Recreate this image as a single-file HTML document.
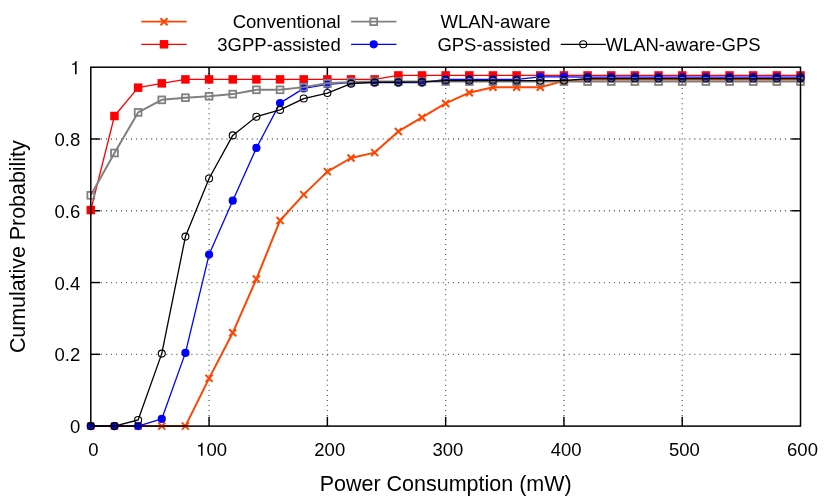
<!DOCTYPE html>
<html><head><meta charset="utf-8"><title>CDF of power consumption</title>
<style>
html,body{margin:0;padding:0;background:#fff;}
body{width:830px;height:498px;overflow:hidden;}
svg{display:block;font-family:"Liberation Sans",sans-serif;fill:#000;will-change:transform;}
</style></head><body>
<svg width="830" height="498" viewBox="0 0 830 498">
<rect width="830" height="498" fill="#fff"/>
<g stroke="#000" stroke-opacity="0.64" stroke-width="1.3" stroke-dasharray="1 4.03" fill="none"><line x1="209.08" y1="426.10" x2="209.08" y2="67.20"/><line x1="327.37" y1="426.10" x2="327.37" y2="67.20"/><line x1="445.65" y1="426.10" x2="445.65" y2="67.20"/><line x1="563.93" y1="426.10" x2="563.93" y2="67.20"/><line x1="682.22" y1="426.10" x2="682.22" y2="67.20"/><line x1="90.80" y1="354.32" x2="800.50" y2="354.32"/><line x1="90.80" y1="282.54" x2="800.50" y2="282.54"/><line x1="90.80" y1="210.76" x2="800.50" y2="210.76"/><line x1="90.80" y1="138.98" x2="800.50" y2="138.98"/></g>
<g stroke="#000" stroke-width="1.45" fill="none"><line x1="209.08" y1="426.10" x2="209.08" y2="416.80"/><line x1="209.08" y1="67.20" x2="209.08" y2="76.50"/><line x1="327.37" y1="426.10" x2="327.37" y2="416.80"/><line x1="327.37" y1="67.20" x2="327.37" y2="76.50"/><line x1="445.65" y1="426.10" x2="445.65" y2="416.80"/><line x1="445.65" y1="67.20" x2="445.65" y2="76.50"/><line x1="563.93" y1="426.10" x2="563.93" y2="416.80"/><line x1="563.93" y1="67.20" x2="563.93" y2="76.50"/><line x1="682.22" y1="426.10" x2="682.22" y2="416.80"/><line x1="682.22" y1="67.20" x2="682.22" y2="76.50"/><line x1="90.80" y1="354.32" x2="100.10" y2="354.32"/><line x1="800.50" y1="354.32" x2="791.20" y2="354.32"/><line x1="90.80" y1="282.54" x2="100.10" y2="282.54"/><line x1="800.50" y1="282.54" x2="791.20" y2="282.54"/><line x1="90.80" y1="210.76" x2="100.10" y2="210.76"/><line x1="800.50" y1="210.76" x2="791.20" y2="210.76"/><line x1="90.80" y1="138.98" x2="100.10" y2="138.98"/><line x1="800.50" y1="138.98" x2="791.20" y2="138.98"/></g>
<polyline points="90.80,426.10 114.46,426.10 138.11,426.10 161.77,426.10 185.43,426.10 209.08,378.37 232.74,332.79 256.40,278.95 280.05,220.45 303.71,194.61 327.37,171.64 351.02,158.00 374.68,152.62 398.34,131.44 421.99,117.45 445.65,103.45 469.31,92.68 492.96,87.30 516.62,87.30 540.28,87.30 563.93,80.84 587.59,79.40 611.25,79.40 634.90,79.40 658.56,79.40 682.22,79.40 705.87,79.40 729.53,79.40 753.19,79.40 776.84,79.40 800.50,79.40" fill="none" stroke="#ff4500" stroke-width="2" stroke-linejoin="round"/>
<path d="M87.30 422.60L94.30 429.60M87.30 429.60L94.30 422.60" stroke="#ff4500" stroke-width="2" fill="none"/>
<path d="M110.96 422.60L117.96 429.60M110.96 429.60L117.96 422.60" stroke="#ff4500" stroke-width="2" fill="none"/>
<path d="M134.61 422.60L141.61 429.60M134.61 429.60L141.61 422.60" stroke="#ff4500" stroke-width="2" fill="none"/>
<path d="M158.27 422.60L165.27 429.60M158.27 429.60L165.27 422.60" stroke="#ff4500" stroke-width="2" fill="none"/>
<path d="M181.93 422.60L188.93 429.60M181.93 429.60L188.93 422.60" stroke="#ff4500" stroke-width="2" fill="none"/>
<path d="M205.58 374.87L212.58 381.87M205.58 381.87L212.58 374.87" stroke="#ff4500" stroke-width="2" fill="none"/>
<path d="M229.24 329.29L236.24 336.29M229.24 336.29L236.24 329.29" stroke="#ff4500" stroke-width="2" fill="none"/>
<path d="M252.90 275.45L259.90 282.45M252.90 282.45L259.90 275.45" stroke="#ff4500" stroke-width="2" fill="none"/>
<path d="M276.55 216.95L283.55 223.95M276.55 223.95L283.55 216.95" stroke="#ff4500" stroke-width="2" fill="none"/>
<path d="M300.21 191.11L307.21 198.11M300.21 198.11L307.21 191.11" stroke="#ff4500" stroke-width="2" fill="none"/>
<path d="M323.87 168.14L330.87 175.14M323.87 175.14L330.87 168.14" stroke="#ff4500" stroke-width="2" fill="none"/>
<path d="M347.52 154.50L354.52 161.50M347.52 161.50L354.52 154.50" stroke="#ff4500" stroke-width="2" fill="none"/>
<path d="M371.18 149.12L378.18 156.12M371.18 156.12L378.18 149.12" stroke="#ff4500" stroke-width="2" fill="none"/>
<path d="M394.84 127.94L401.84 134.94M394.84 134.94L401.84 127.94" stroke="#ff4500" stroke-width="2" fill="none"/>
<path d="M418.49 113.95L425.49 120.95M418.49 120.95L425.49 113.95" stroke="#ff4500" stroke-width="2" fill="none"/>
<path d="M442.15 99.95L449.15 106.95M442.15 106.95L449.15 99.95" stroke="#ff4500" stroke-width="2" fill="none"/>
<path d="M465.81 89.18L472.81 96.18M465.81 96.18L472.81 89.18" stroke="#ff4500" stroke-width="2" fill="none"/>
<path d="M489.46 83.80L496.46 90.80M489.46 90.80L496.46 83.80" stroke="#ff4500" stroke-width="2" fill="none"/>
<path d="M513.12 83.80L520.12 90.80M513.12 90.80L520.12 83.80" stroke="#ff4500" stroke-width="2" fill="none"/>
<path d="M536.78 83.80L543.78 90.80M536.78 90.80L543.78 83.80" stroke="#ff4500" stroke-width="2" fill="none"/>
<path d="M560.43 77.34L567.43 84.34M560.43 84.34L567.43 77.34" stroke="#ff4500" stroke-width="2" fill="none"/>
<path d="M584.09 75.90L591.09 82.90M584.09 82.90L591.09 75.90" stroke="#ff4500" stroke-width="2" fill="none"/>
<path d="M607.75 75.90L614.75 82.90M607.75 82.90L614.75 75.90" stroke="#ff4500" stroke-width="2" fill="none"/>
<path d="M631.40 75.90L638.40 82.90M631.40 82.90L638.40 75.90" stroke="#ff4500" stroke-width="2" fill="none"/>
<path d="M655.06 75.90L662.06 82.90M655.06 82.90L662.06 75.90" stroke="#ff4500" stroke-width="2" fill="none"/>
<path d="M678.72 75.90L685.72 82.90M678.72 82.90L685.72 75.90" stroke="#ff4500" stroke-width="2" fill="none"/>
<path d="M702.37 75.90L709.37 82.90M702.37 82.90L709.37 75.90" stroke="#ff4500" stroke-width="2" fill="none"/>
<path d="M726.03 75.90L733.03 82.90M726.03 82.90L733.03 75.90" stroke="#ff4500" stroke-width="2" fill="none"/>
<path d="M749.69 75.90L756.69 82.90M749.69 82.90L756.69 75.90" stroke="#ff4500" stroke-width="2" fill="none"/>
<path d="M773.34 75.90L780.34 82.90M773.34 82.90L780.34 75.90" stroke="#ff4500" stroke-width="2" fill="none"/>
<path d="M797.00 75.90L804.00 82.90M797.00 82.90L804.00 75.90" stroke="#ff4500" stroke-width="2" fill="none"/>
<polyline points="90.80,210.04 114.46,116.01 138.11,87.66 161.77,83.35 185.43,79.40 209.08,79.40 232.74,79.40 256.40,79.40 280.05,79.40 303.71,79.40 327.37,79.40 351.02,79.40 374.68,79.40 398.34,75.45 421.99,75.45 445.65,75.45 469.31,75.45 492.96,75.45 516.62,75.45 540.28,75.45 563.93,75.45 587.59,75.45 611.25,75.45 634.90,75.45 658.56,75.45 682.22,75.45 705.87,75.45 729.53,75.45 753.19,75.45 776.84,75.45 800.50,75.45" fill="none" stroke="#ff0000" stroke-width="1.3" stroke-linejoin="round"/>
<rect x="86.55" y="205.79" width="8.50" height="8.50" fill="#ff0000"/>
<rect x="110.21" y="111.76" width="8.50" height="8.50" fill="#ff0000"/>
<rect x="133.86" y="83.41" width="8.50" height="8.50" fill="#ff0000"/>
<rect x="157.52" y="79.10" width="8.50" height="8.50" fill="#ff0000"/>
<rect x="181.18" y="75.15" width="8.50" height="8.50" fill="#ff0000"/>
<rect x="204.83" y="75.15" width="8.50" height="8.50" fill="#ff0000"/>
<rect x="228.49" y="75.15" width="8.50" height="8.50" fill="#ff0000"/>
<rect x="252.15" y="75.15" width="8.50" height="8.50" fill="#ff0000"/>
<rect x="275.80" y="75.15" width="8.50" height="8.50" fill="#ff0000"/>
<rect x="299.46" y="75.15" width="8.50" height="8.50" fill="#ff0000"/>
<rect x="323.12" y="75.15" width="8.50" height="8.50" fill="#ff0000"/>
<rect x="346.77" y="75.15" width="8.50" height="8.50" fill="#ff0000"/>
<rect x="370.43" y="75.15" width="8.50" height="8.50" fill="#ff0000"/>
<rect x="394.09" y="71.20" width="8.50" height="8.50" fill="#ff0000"/>
<rect x="417.74" y="71.20" width="8.50" height="8.50" fill="#ff0000"/>
<rect x="441.40" y="71.20" width="8.50" height="8.50" fill="#ff0000"/>
<rect x="465.06" y="71.20" width="8.50" height="8.50" fill="#ff0000"/>
<rect x="488.71" y="71.20" width="8.50" height="8.50" fill="#ff0000"/>
<rect x="512.37" y="71.20" width="8.50" height="8.50" fill="#ff0000"/>
<rect x="536.03" y="71.20" width="8.50" height="8.50" fill="#ff0000"/>
<rect x="559.68" y="71.20" width="8.50" height="8.50" fill="#ff0000"/>
<rect x="583.34" y="71.20" width="8.50" height="8.50" fill="#ff0000"/>
<rect x="607.00" y="71.20" width="8.50" height="8.50" fill="#ff0000"/>
<rect x="630.65" y="71.20" width="8.50" height="8.50" fill="#ff0000"/>
<rect x="654.31" y="71.20" width="8.50" height="8.50" fill="#ff0000"/>
<rect x="677.97" y="71.20" width="8.50" height="8.50" fill="#ff0000"/>
<rect x="701.62" y="71.20" width="8.50" height="8.50" fill="#ff0000"/>
<rect x="725.28" y="71.20" width="8.50" height="8.50" fill="#ff0000"/>
<rect x="748.94" y="71.20" width="8.50" height="8.50" fill="#ff0000"/>
<rect x="772.59" y="71.20" width="8.50" height="8.50" fill="#ff0000"/>
<rect x="796.25" y="71.20" width="8.50" height="8.50" fill="#ff0000"/>
<polyline points="90.80,426.10 114.46,426.10 138.11,426.10 161.77,418.92 185.43,352.88 209.08,254.55 232.74,200.71 256.40,147.95 280.05,103.09 303.71,88.38 327.37,84.43 351.02,82.63 374.68,82.63 398.34,82.63 421.99,82.63 445.65,79.33 469.31,79.33 492.96,79.33 516.62,79.33 540.28,76.89 563.93,76.89 587.59,77.18 611.25,77.18 634.90,77.18 658.56,77.18 682.22,77.18 705.87,77.18 729.53,77.18 753.19,77.18 776.84,77.18 800.50,77.18" fill="none" stroke="#0000ff" stroke-width="1.3" stroke-linejoin="round"/>
<circle cx="90.80" cy="426.10" r="4.1" fill="#0000ff"/>
<circle cx="114.46" cy="426.10" r="4.1" fill="#0000ff"/>
<circle cx="138.11" cy="426.10" r="4.1" fill="#0000ff"/>
<circle cx="161.77" cy="418.92" r="4.1" fill="#0000ff"/>
<circle cx="185.43" cy="352.88" r="4.1" fill="#0000ff"/>
<circle cx="209.08" cy="254.55" r="4.1" fill="#0000ff"/>
<circle cx="232.74" cy="200.71" r="4.1" fill="#0000ff"/>
<circle cx="256.40" cy="147.95" r="4.1" fill="#0000ff"/>
<circle cx="280.05" cy="103.09" r="4.1" fill="#0000ff"/>
<circle cx="303.71" cy="88.38" r="4.1" fill="#0000ff"/>
<circle cx="327.37" cy="84.43" r="4.1" fill="#0000ff"/>
<circle cx="351.02" cy="82.63" r="4.1" fill="#0000ff"/>
<circle cx="374.68" cy="82.63" r="4.1" fill="#0000ff"/>
<circle cx="398.34" cy="82.63" r="4.1" fill="#0000ff"/>
<circle cx="421.99" cy="82.63" r="4.1" fill="#0000ff"/>
<circle cx="445.65" cy="79.33" r="4.1" fill="#0000ff"/>
<circle cx="469.31" cy="79.33" r="4.1" fill="#0000ff"/>
<circle cx="492.96" cy="79.33" r="4.1" fill="#0000ff"/>
<circle cx="516.62" cy="79.33" r="4.1" fill="#0000ff"/>
<circle cx="540.28" cy="76.89" r="4.1" fill="#0000ff"/>
<circle cx="563.93" cy="76.89" r="4.1" fill="#0000ff"/>
<circle cx="587.59" cy="77.18" r="4.1" fill="#0000ff"/>
<circle cx="611.25" cy="77.18" r="4.1" fill="#0000ff"/>
<circle cx="634.90" cy="77.18" r="4.1" fill="#0000ff"/>
<circle cx="658.56" cy="77.18" r="4.1" fill="#0000ff"/>
<circle cx="682.22" cy="77.18" r="4.1" fill="#0000ff"/>
<circle cx="705.87" cy="77.18" r="4.1" fill="#0000ff"/>
<circle cx="729.53" cy="77.18" r="4.1" fill="#0000ff"/>
<circle cx="753.19" cy="77.18" r="4.1" fill="#0000ff"/>
<circle cx="776.84" cy="77.18" r="4.1" fill="#0000ff"/>
<circle cx="800.50" cy="77.18" r="4.1" fill="#0000ff"/>
<polyline points="90.80,195.33 114.46,152.98 138.11,112.42 161.77,99.86 185.43,97.71 209.08,96.27 232.74,94.12 256.40,89.81 280.05,89.81 303.71,87.12 327.37,83.35 351.02,81.91 374.68,81.56 398.34,81.56 421.99,81.56 445.65,81.56 469.31,81.56 492.96,81.56 516.62,81.56 540.28,81.56 563.93,81.56 587.59,81.56 611.25,81.56 634.90,81.56 658.56,81.56 682.22,81.56 705.87,81.56 729.53,81.56 753.19,81.56 776.84,81.56 800.50,81.56" fill="none" stroke="#808080" stroke-width="2" stroke-linejoin="round"/>
<rect x="87.40" y="191.93" width="6.80" height="6.80" fill="none" stroke="#808080" stroke-width="1.8"/>
<rect x="111.06" y="149.58" width="6.80" height="6.80" fill="none" stroke="#808080" stroke-width="1.8"/>
<rect x="134.71" y="109.02" width="6.80" height="6.80" fill="none" stroke="#808080" stroke-width="1.8"/>
<rect x="158.37" y="96.46" width="6.80" height="6.80" fill="none" stroke="#808080" stroke-width="1.8"/>
<rect x="182.03" y="94.31" width="6.80" height="6.80" fill="none" stroke="#808080" stroke-width="1.8"/>
<rect x="205.68" y="92.87" width="6.80" height="6.80" fill="none" stroke="#808080" stroke-width="1.8"/>
<rect x="229.34" y="90.72" width="6.80" height="6.80" fill="none" stroke="#808080" stroke-width="1.8"/>
<rect x="253.00" y="86.41" width="6.80" height="6.80" fill="none" stroke="#808080" stroke-width="1.8"/>
<rect x="276.65" y="86.41" width="6.80" height="6.80" fill="none" stroke="#808080" stroke-width="1.8"/>
<rect x="300.31" y="83.72" width="6.80" height="6.80" fill="none" stroke="#808080" stroke-width="1.8"/>
<rect x="323.97" y="79.95" width="6.80" height="6.80" fill="none" stroke="#808080" stroke-width="1.8"/>
<rect x="347.62" y="78.51" width="6.80" height="6.80" fill="none" stroke="#808080" stroke-width="1.8"/>
<rect x="371.28" y="78.16" width="6.80" height="6.80" fill="none" stroke="#808080" stroke-width="1.8"/>
<rect x="394.94" y="78.16" width="6.80" height="6.80" fill="none" stroke="#808080" stroke-width="1.8"/>
<rect x="418.59" y="78.16" width="6.80" height="6.80" fill="none" stroke="#808080" stroke-width="1.8"/>
<rect x="442.25" y="78.16" width="6.80" height="6.80" fill="none" stroke="#808080" stroke-width="1.8"/>
<rect x="465.91" y="78.16" width="6.80" height="6.80" fill="none" stroke="#808080" stroke-width="1.8"/>
<rect x="489.56" y="78.16" width="6.80" height="6.80" fill="none" stroke="#808080" stroke-width="1.8"/>
<rect x="513.22" y="78.16" width="6.80" height="6.80" fill="none" stroke="#808080" stroke-width="1.8"/>
<rect x="536.88" y="78.16" width="6.80" height="6.80" fill="none" stroke="#808080" stroke-width="1.8"/>
<rect x="560.53" y="78.16" width="6.80" height="6.80" fill="none" stroke="#808080" stroke-width="1.8"/>
<rect x="584.19" y="78.16" width="6.80" height="6.80" fill="none" stroke="#808080" stroke-width="1.8"/>
<rect x="607.85" y="78.16" width="6.80" height="6.80" fill="none" stroke="#808080" stroke-width="1.8"/>
<rect x="631.50" y="78.16" width="6.80" height="6.80" fill="none" stroke="#808080" stroke-width="1.8"/>
<rect x="655.16" y="78.16" width="6.80" height="6.80" fill="none" stroke="#808080" stroke-width="1.8"/>
<rect x="678.82" y="78.16" width="6.80" height="6.80" fill="none" stroke="#808080" stroke-width="1.8"/>
<rect x="702.47" y="78.16" width="6.80" height="6.80" fill="none" stroke="#808080" stroke-width="1.8"/>
<rect x="726.13" y="78.16" width="6.80" height="6.80" fill="none" stroke="#808080" stroke-width="1.8"/>
<rect x="749.79" y="78.16" width="6.80" height="6.80" fill="none" stroke="#808080" stroke-width="1.8"/>
<rect x="773.44" y="78.16" width="6.80" height="6.80" fill="none" stroke="#808080" stroke-width="1.8"/>
<rect x="797.10" y="78.16" width="6.80" height="6.80" fill="none" stroke="#808080" stroke-width="1.8"/>
<polyline points="90.80,426.10 114.46,426.10 138.11,420.00 161.77,353.60 185.43,236.60 209.08,178.46 232.74,135.39 256.40,116.73 280.05,109.91 303.71,98.57 327.37,93.04 351.02,83.71 374.68,82.27 398.34,82.27 421.99,81.91 445.65,80.55 469.31,80.55 492.96,80.55 516.62,80.55 540.28,80.55 563.93,80.55 587.59,78.54 611.25,78.54 634.90,78.54 658.56,78.54 682.22,78.54 705.87,78.54 729.53,78.54 753.19,78.54 776.84,78.54 800.50,78.54" fill="none" stroke="#000000" stroke-width="1.3" stroke-linejoin="round"/>
<circle cx="90.80" cy="426.10" r="3.5" fill="none" stroke="#000000" stroke-width="1.1"/>
<circle cx="114.46" cy="426.10" r="3.5" fill="none" stroke="#000000" stroke-width="1.1"/>
<circle cx="138.11" cy="420.00" r="3.5" fill="none" stroke="#000000" stroke-width="1.1"/>
<circle cx="161.77" cy="353.60" r="3.5" fill="none" stroke="#000000" stroke-width="1.1"/>
<circle cx="185.43" cy="236.60" r="3.5" fill="none" stroke="#000000" stroke-width="1.1"/>
<circle cx="209.08" cy="178.46" r="3.5" fill="none" stroke="#000000" stroke-width="1.1"/>
<circle cx="232.74" cy="135.39" r="3.5" fill="none" stroke="#000000" stroke-width="1.1"/>
<circle cx="256.40" cy="116.73" r="3.5" fill="none" stroke="#000000" stroke-width="1.1"/>
<circle cx="280.05" cy="109.91" r="3.5" fill="none" stroke="#000000" stroke-width="1.1"/>
<circle cx="303.71" cy="98.57" r="3.5" fill="none" stroke="#000000" stroke-width="1.1"/>
<circle cx="327.37" cy="93.04" r="3.5" fill="none" stroke="#000000" stroke-width="1.1"/>
<circle cx="351.02" cy="83.71" r="3.5" fill="none" stroke="#000000" stroke-width="1.1"/>
<circle cx="374.68" cy="82.27" r="3.5" fill="none" stroke="#000000" stroke-width="1.1"/>
<circle cx="398.34" cy="82.27" r="3.5" fill="none" stroke="#000000" stroke-width="1.1"/>
<circle cx="421.99" cy="81.91" r="3.5" fill="none" stroke="#000000" stroke-width="1.1"/>
<circle cx="445.65" cy="80.55" r="3.5" fill="none" stroke="#000000" stroke-width="1.1"/>
<circle cx="469.31" cy="80.55" r="3.5" fill="none" stroke="#000000" stroke-width="1.1"/>
<circle cx="492.96" cy="80.55" r="3.5" fill="none" stroke="#000000" stroke-width="1.1"/>
<circle cx="516.62" cy="80.55" r="3.5" fill="none" stroke="#000000" stroke-width="1.1"/>
<circle cx="540.28" cy="80.55" r="3.5" fill="none" stroke="#000000" stroke-width="1.1"/>
<circle cx="563.93" cy="80.55" r="3.5" fill="none" stroke="#000000" stroke-width="1.1"/>
<circle cx="587.59" cy="78.54" r="3.5" fill="none" stroke="#000000" stroke-width="1.1"/>
<circle cx="611.25" cy="78.54" r="3.5" fill="none" stroke="#000000" stroke-width="1.1"/>
<circle cx="634.90" cy="78.54" r="3.5" fill="none" stroke="#000000" stroke-width="1.1"/>
<circle cx="658.56" cy="78.54" r="3.5" fill="none" stroke="#000000" stroke-width="1.1"/>
<circle cx="682.22" cy="78.54" r="3.5" fill="none" stroke="#000000" stroke-width="1.1"/>
<circle cx="705.87" cy="78.54" r="3.5" fill="none" stroke="#000000" stroke-width="1.1"/>
<circle cx="729.53" cy="78.54" r="3.5" fill="none" stroke="#000000" stroke-width="1.1"/>
<circle cx="753.19" cy="78.54" r="3.5" fill="none" stroke="#000000" stroke-width="1.1"/>
<circle cx="776.84" cy="78.54" r="3.5" fill="none" stroke="#000000" stroke-width="1.1"/>
<circle cx="800.50" cy="78.54" r="3.5" fill="none" stroke="#000000" stroke-width="1.1"/>
<rect x="90.80" y="67.20" width="709.70" height="358.90" fill="none" stroke="#000" stroke-width="1.5"/>
<g font-size="18.5"><text x="93.40" y="455.8" text-anchor="middle">0</text><path d="M202.57 455.80L200.95 455.80L200.95 446.46L198.04 446.46L198.04 445.33L199.58 445.11L200.78 444.42L201.56 442.68L202.57 442.68Z"/><text x="206.44" y="455.8">00</text><text x="329.77" y="455.8" text-anchor="middle">200</text><text x="447.95" y="455.8" text-anchor="middle">300</text><text x="566.13" y="455.8" text-anchor="middle">400</text><text x="684.32" y="455.8" text-anchor="middle">500</text><text x="802.50" y="455.8" text-anchor="middle">600</text><text x="80.3" y="433.10" text-anchor="end">0</text><text x="80.3" y="361.32" text-anchor="end">0.2</text><text x="80.3" y="289.54" text-anchor="end">0.4</text><text x="80.3" y="217.76" text-anchor="end">0.6</text><text x="80.3" y="145.98" text-anchor="end">0.8</text><path d="M76.63 74.20L75.01 74.20L75.01 64.86L72.10 64.86L72.10 63.73L73.64 63.51L74.84 62.82L75.62 61.08L76.63 61.08Z"/></g>
<text x="445.7" y="490.5" text-anchor="middle" font-size="21.5">Power Consumption (mW)</text>
<text transform="translate(25.0 246.7) rotate(-90)" text-anchor="middle" font-size="21.4">Cumulative Probability</text>
<line x1="141.3" y1="21.7" x2="186.7" y2="21.7" stroke="#ff4500" stroke-width="1.8"/>
<path d="M160.50 18.20L167.50 25.20M160.50 25.20L167.50 18.20" stroke="#ff4500" stroke-width="2" fill="none"/>
<line x1="141.3" y1="44.3" x2="186.7" y2="44.3" stroke="#ff0000" stroke-width="1.3"/>
<rect x="159.75" y="40.05" width="8.50" height="8.50" fill="#ff0000"/>
<line x1="351.1" y1="21.7" x2="396.4" y2="21.7" stroke="#808080" stroke-width="1.8"/>
<rect x="370.30" y="18.30" width="6.80" height="6.80" fill="none" stroke="#808080" stroke-width="1.8"/>
<line x1="351.1" y1="44.3" x2="396.4" y2="44.3" stroke="#0000ff" stroke-width="1.3"/>
<circle cx="373.70" cy="44.30" r="4.1" fill="#0000ff"/>
<line x1="560.8" y1="44.3" x2="605.9" y2="44.3" stroke="#000000" stroke-width="1.3"/>
<circle cx="583.20" cy="44.30" r="3.5" fill="none" stroke="#000000" stroke-width="1.1"/>
<g font-size="18.5"><text x="340.7" y="27.7" text-anchor="end">Conventional</text><text x="340.7" y="50.7" text-anchor="end">3GPP-assisted</text><text x="550.5" y="27.7" text-anchor="end">WLAN-aware</text><text x="550.5" y="50.7" text-anchor="end">GPS-assisted</text><text x="605.4" y="50.7">WLAN-aware-GPS</text></g>
</svg>
</body></html>
